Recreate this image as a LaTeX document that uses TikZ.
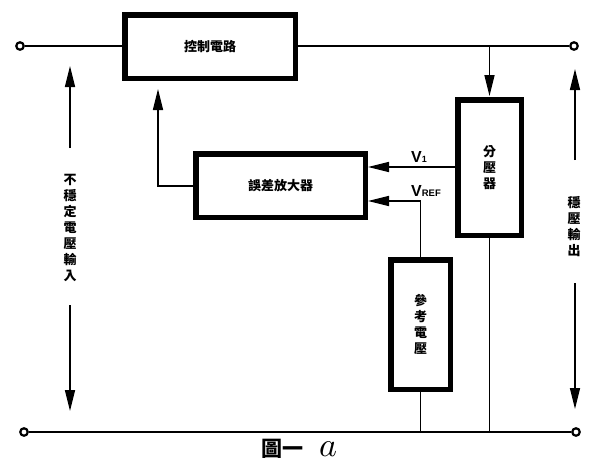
\documentclass[tikz,border=0pt]{standalone}
\usepackage{fontspec}
\setmainfont{Liberation Sans}
\newfontfamily\cjk{Noto Sans CJK TC}
\usetikzlibrary{arrows.meta}
\tikzset{
  x=1pt, y=-1pt,
  blk/.style={draw, line width=5.5pt, inner sep=0pt, font=\cjk\bfseries\fontsize{13}{16}\selectfont, align=center},
  wire/.style={line width=1.5pt},
  arr/.style={wire, -{Triangle[length=21pt,width=10pt]}},
  term/.style={circle, draw, line width=2.2pt, fill=white, minimum size=7.5pt, inner sep=0pt},
  vlab/.style={font=\cjk\bfseries\fontsize{13}{16}\selectfont, align=center, inner sep=0pt},
  vsig/.style={font=\bfseries\fontsize{16}{17}\selectfont, inner sep=0pt}
}
\begin{document}
\begin{tikzpicture}
\useasboundingbox (0,0) rectangle (600,469);
% blocks
\node[blk, minimum width=170.5pt, minimum height=63.5pt] (ctrl) at (210,46.5) {控制電路};
\node[blk, minimum width=169.5pt, minimum height=63.5pt] (amp) at (280.5,185.5) {誤差放大器};
\node[blk, minimum width=63.5pt, minimum height=135.5pt] (div) at (489.5,167.5) {分\\壓\\器};
\node[blk, minimum width=59.5pt, minimum height=129.5pt] (ref) at (420.5,324.5) {參\\考\\電\\壓};
% terminals
\node[term] (tl) at (20,46) {};
\node[term] (tr) at (574,46) {};
\node[term] (bl) at (24,432) {};
\node[term] (br) at (576,432) {};
% top and bottom lines
\draw[wire] (tl) -- (ctrl.west |- tl);
\draw[wire] (ctrl.east |- tr) -- (tr);
\draw[wire] (bl) -- (br);
% divider feed
\coordinate (tap) at (489.5,46);
\draw[arr, shorten >=1pt] (tap) -- (div.north);
\coordinate (dbot) at (489.5,432);
\draw[wire] (div.south) -- (dbot);
\coordinate (rbot) at (420.5,432);
\draw[wire] (ref.south) -- (rbot);
% V1
\coordinate (v1a) at (div.west |- 0,167);
\coordinate (v1b) at (amp.east |- 0,167);
\draw[arr] (v1a) -- (v1b);
\node[vsig] (v1) at (419,157) {V\raisebox{0.5pt}{\fontsize{9}{10}\selectfont 1}};
% VREF
\coordinate (vrc) at (420.5,201);
\coordinate (vrb) at (amp.east |- 0,201);
\draw[arr] (ref.north) -- (vrc) -- (vrb);
\node[vsig] (vref) at (426,191) {V\fontsize{9.5}{10}\selectfont REF};
% feedback
\coordinate (fbc) at (158,186);
\coordinate (fbt) at (158,89);
\draw[arr] (amp.west |- fbc) -- (fbc) -- (fbt);
% input label
\coordinate (lu1) at (70,148);
\coordinate (lu2) at (70,66);
\draw[arr] (lu1) -- (lu2);
\coordinate (ld1) at (70,305);
\coordinate (ld2) at (70,411);
\draw[arr] (ld1) -- (ld2);
\node[vlab] (inlab) at (70,228) {不\\穩\\定\\電\\壓\\輸\\入};
% output label
\coordinate (ru1) at (575,160);
\coordinate (ru2) at (575,69);
\draw[arr] (ru1) -- (ru2);
\coordinate (rd1) at (575,283);
\coordinate (rd2) at (575,409);
\draw[arr] (rd1) -- (rd2);
\node[vlab] (outlab) at (574,227) {穩\\壓\\輸\\出};
% caption
\node[inner sep=0pt, anchor=base] (cap) at (299,456) {{\cjk\bfseries\fontsize{21}{22}\selectfont 圖一}\hspace{16pt}\scalebox{3.4}{$a$}};
\end{tikzpicture}
\end{document}
